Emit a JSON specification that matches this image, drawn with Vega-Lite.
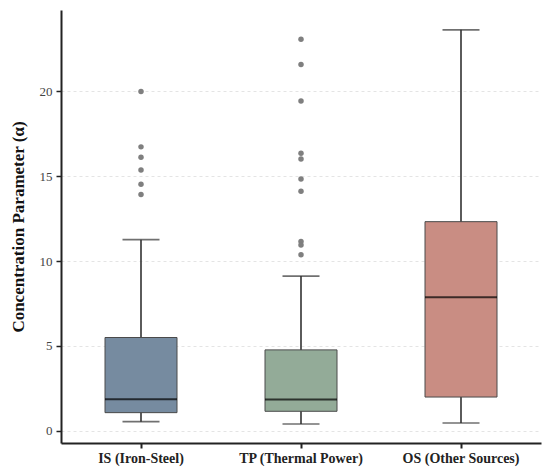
{
  "$schema": "https://vega.github.io/schema/vega-lite/v6.json",
  "width": 480,
  "height": 433,
  "autosize": {"type": "none"},
  "padding": {"left": 61, "top": 10, "right": 9, "bottom": 33},
  "background": "white",
  "config": {
    "view": {"stroke": null},
    "font": "Liberation Serif"
  },
  "datasets": {
    "boxes": [
      {"source": "IS (Iron-Steel)", "lower": 0.53, "q1": 1.06, "median": 1.85, "q3": 5.49, "upper": 11.26},
      {"source": "TP (Thermal Power)", "lower": 0.39, "q1": 1.14, "median": 1.83, "q3": 4.76, "upper": 9.11},
      {"source": "OS (Other Sources)", "lower": 0.45, "q1": 1.98, "median": 7.87, "q3": 12.32, "upper": 23.63}
    ],
    "outliers": [
      {"source": "IS (Iron-Steel)", "value": 20.0},
      {"source": "IS (Iron-Steel)", "value": 16.73},
      {"source": "IS (Iron-Steel)", "value": 16.12},
      {"source": "IS (Iron-Steel)", "value": 15.37},
      {"source": "IS (Iron-Steel)", "value": 14.53},
      {"source": "IS (Iron-Steel)", "value": 13.92},
      {"source": "TP (Thermal Power)", "value": 23.07},
      {"source": "TP (Thermal Power)", "value": 21.58},
      {"source": "TP (Thermal Power)", "value": 19.43},
      {"source": "TP (Thermal Power)", "value": 16.36},
      {"source": "TP (Thermal Power)", "value": 16.02},
      {"source": "TP (Thermal Power)", "value": 14.84},
      {"source": "TP (Thermal Power)", "value": 14.12},
      {"source": "TP (Thermal Power)", "value": 11.15},
      {"source": "TP (Thermal Power)", "value": 10.95},
      {"source": "TP (Thermal Power)", "value": 10.37}
    ]
  },
  "encoding": {
    "x": {
      "field": "source",
      "type": "nominal",
      "sort": ["IS (Iron-Steel)", "TP (Thermal Power)", "OS (Other Sources)"],
      "scale": {"paddingInner": 0.2, "paddingOuter": 0.1},
      "axis": {
        "title": null,
        "labelAngle": 0,
        "labelFont": "Liberation Serif",
        "labelFontSize": 14,
        "labelFontWeight": "bold",
        "labelColor": "#222222",
        "labelPadding": 3,
        "domainColor": "#222222",
        "domainWidth": 2,
        "tickColor": "#222222",
        "tickWidth": 2,
        "tickSize": 5,
        "grid": false
      }
    }
  },
  "layer": [
    {
      "data": {"name": "boxes"},
      "mark": {"type": "rule", "color": "#333333", "strokeWidth": 1.6},
      "encoding": {
        "y": {
          "field": "lower",
          "type": "quantitative",
          "scale": {"domain": [-0.73, 24.8], "nice": false, "zero": false},
          "axis": {
            "title": ["Concentration Parameter (α)"],
            "titleFont": "Liberation Serif",
            "titleFontSize": 17,
            "titleFontWeight": "bold",
            "titleColor": "#111111",
            "titlePadding": 12,
            "values": [0, 5, 10, 15, 20],
            "labelFont": "Liberation Serif",
            "labelFontSize": 13,
            "labelColor": "#444444",
            "labelPadding": 4,
            "domainColor": "#222222",
            "domainWidth": 2,
            "tickColor": "#222222",
            "tickWidth": 1.5,
            "tickSize": 5,
            "grid": true,
            "gridColor": "#dddddd",
            "gridDash": [3, 3],
            "gridWidth": 0.8
          }
        },
        "y2": {"field": "upper"}
      }
    },
    {
      "data": {"name": "boxes"},
      "mark": {"type": "tick", "color": "#333333", "thickness": 1.6, "size": 37},
      "encoding": {"y": {"field": "lower", "type": "quantitative"}}
    },
    {
      "data": {"name": "boxes"},
      "mark": {"type": "tick", "color": "#333333", "thickness": 1.6, "size": 37},
      "encoding": {"y": {"field": "upper", "type": "quantitative"}}
    },
    {
      "data": {"name": "boxes"},
      "mark": {"type": "bar", "size": 72, "stroke": "#4a4a4a", "strokeWidth": 1},
      "encoding": {
        "y": {"field": "q1", "type": "quantitative"},
        "y2": {"field": "q3"},
        "color": {
          "field": "source",
          "type": "nominal",
          "legend": null,
          "scale": {
            "domain": ["IS (Iron-Steel)", "TP (Thermal Power)", "OS (Other Sources)"],
            "range": ["#768ba0", "#93ab98", "#c98d83"]
          }
        }
      }
    },
    {
      "data": {"name": "boxes"},
      "mark": {"type": "tick", "color": "#000000", "thickness": 2, "size": 72},
      "encoding": {"y": {"field": "median", "type": "quantitative"}}
    },
    {
      "data": {"name": "outliers"},
      "mark": {"type": "circle", "color": "#7f7f7f", "opacity": 1, "size": 30},
      "encoding": {"y": {"field": "value", "type": "quantitative"}}
    }
  ]
}
